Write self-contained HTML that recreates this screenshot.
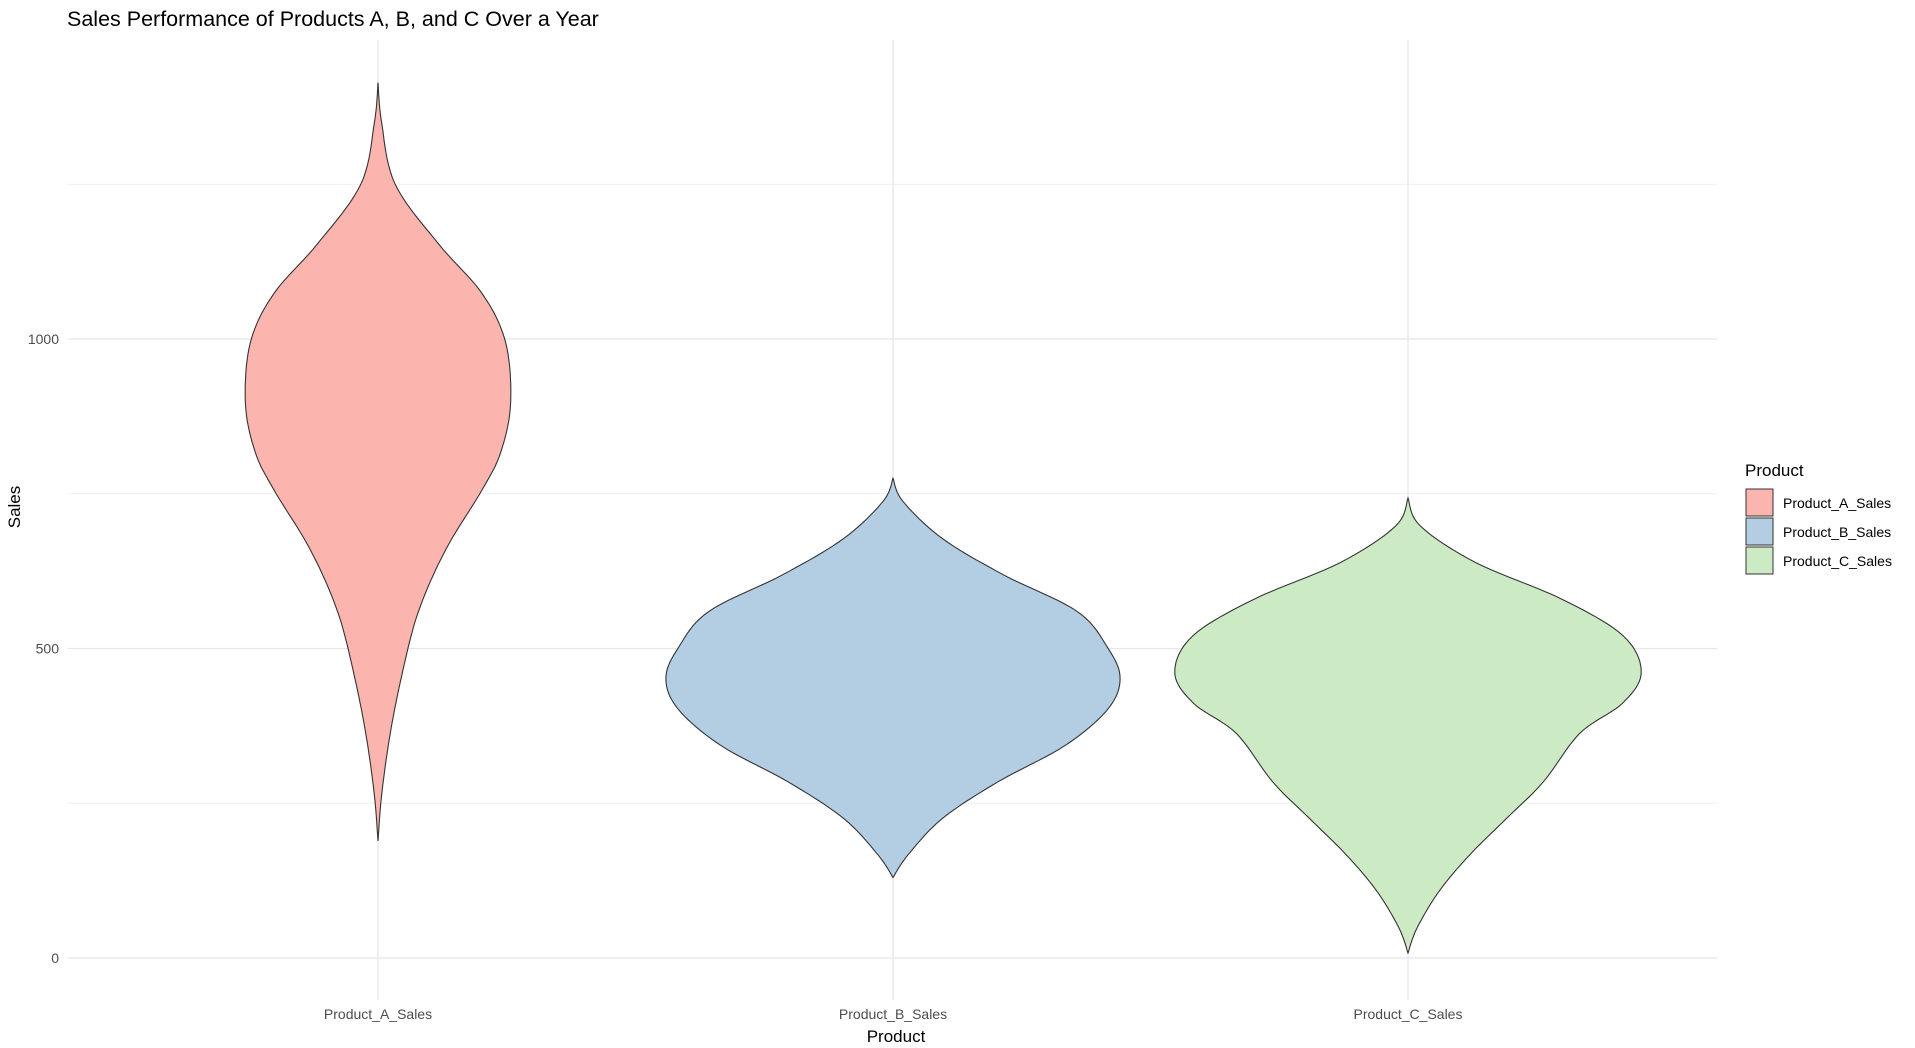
<!DOCTYPE html>
<html><head><meta charset="utf-8"><style>
html,body{margin:0;padding:0;background:#fff;}
svg{display:block;font-family:"Liberation Sans",Arial,sans-serif;}
</style></head><body>
<svg id="chart" width="1915" height="1048" viewBox="0 0 1915 1048">
<text x="67" y="26" font-size="21.5" fill="#000">Sales Performance of Products A, B, and C Over a Year</text>
<g id="grid"></g>
<g id="violins"></g>
<g id="yticks"></g>
<g id="xticks"></g>
<text x="896" y="1042" font-size="17" text-anchor="middle" fill="#000">Product</text>
<text transform="translate(20,507) rotate(-90)" font-size="17" text-anchor="middle" fill="#000">Sales</text>
<g id="legend">
<text x="1745" y="476" font-size="17" fill="#000">Product</text>
</g>
</svg>
<script>
const categories = ["Product_A_Sales","Product_B_Sales","Product_C_Sales"];
const fills = ["#FBB4AE","#B3CDE3","#CCEBC5"];
const yTicks = [0,500,1000];
const yMinor = [250,750,1250];
const salesA = [1414,1349,1250,1152,1073,994,896,817,757,659,560,462,363,264,189];
const densA  = [0,3,14,50,85,104,108,100,85,55,33,20,10,3,0];
const salesB = [775,738,678,619,560,501,452,402,343,284,225,166,130];
const densB  = [0,8,40,90,150,175,185,175,140,85,40,12,0];
const salesC = [743,698,639,580,521,462,412,363,284,225,166,107,47,8];
const densC  = [0,10,55,125,175,190,175,140,110,80,50,25,7,0];
const series = [[salesA,densA],[salesB,densB],[salesC,densC]];

const ns="http://www.w3.org/2000/svg";
const L=67.5,R=1717,T=40,B=1000;
const y0=958,yPer=0.619;
function yS(v){return y0-v*yPer;}
const step=515;
function xS(i){return 378+i*step;}
const wScale=518/422;
function mk(tag,attrs,parent){const e=document.createElementNS(ns,tag);for(const k in attrs)e.setAttribute(k,attrs[k]);parent.appendChild(e);return e;}
const grid=document.getElementById('grid');
yMinor.forEach(v=>{const l=mk('line',{x1:L,x2:R,y1:yS(v),y2:yS(v),stroke:'#ebebeb','stroke-width':0.8},grid);

});
yTicks.forEach(v=>{const l=mk('line',{x1:L,x2:R,y1:yS(v),y2:yS(v),stroke:'#e6e6e6','stroke-width':1.3},grid);

});
categories.forEach((c,i)=>{const l=mk('line',{x1:xS(i),x2:xS(i),y1:T,y2:B,stroke:'#e6e6e6','stroke-width':1.3},grid);

});
const yt=document.getElementById('yticks');
yTicks.forEach(v=>{const t=mk('text',{x:59,y:yS(v)+5,'font-size':14,'text-anchor':'end',fill:'#4d4d4d'},yt);t.textContent=v;

});
const xt=document.getElementById('xticks');
categories.forEach((c,i)=>{const t=mk('text',{x:xS(i),y:1019,'font-size':14,'text-anchor':'middle',fill:'#4d4d4d'},xt);t.textContent=c;

});
function smoothPts(ys,ws){
  const out=[];const n=ys.length;
  for(let i=0;i<n-1;i++){
    const p0=[ys[Math.max(i-1,0)],ws[Math.max(i-1,0)]],p1=[ys[i],ws[i]],p2=[ys[i+1],ws[i+1]],p3=[ys[Math.min(i+2,n-1)],ws[Math.min(i+2,n-1)]];
    for(let k=0;k<10;k++){const t=k/10,t2=t*t,t3=t2*t;
      const f=(a,b,c,d)=>0.5*((2*b)+(-a+c)*t+(2*a-5*b+4*c-d)*t2+(-a+3*b-3*c+d)*t3);
      out.push([f(p0[0],p1[0],p2[0],p3[0]),Math.max(0,f(p0[1],p1[1],p2[1],p3[1]))]);}
  }
  out.push([ys[n-1],ws[n-1]]);return out;
}
const vg=document.getElementById('violins');
series.forEach((s,i)=>{
  const pts=smoothPts(s[0],s[1]);const cx=xS(i);
  const right=pts.map(p=>[cx+p[1]*wScale,yS(p[0])]);
  const left=pts.slice().reverse().map(p=>[cx-p[1]*wScale,yS(p[0])]);
  const d='M'+right.concat(left).map(p=>p[0].toFixed(1)+','+p[1].toFixed(1)).join('L')+'Z';
  const p=mk('path',{d:d,fill:fills[i],stroke:'#333','stroke-width':1.1},vg);
  
  
});
const lg=document.getElementById('legend');
categories.forEach((c,i)=>{const y=489+i*29;
  const r=mk('rect',{x:1746,y:y,width:27,height:27,fill:fills[i],stroke:'#333','stroke-width':1},lg);
  
  
  const t=mk('text',{x:1783,y:y+19,'font-size':14,fill:'#000'},lg);t.textContent=c;
  
  
});
</script>
</body></html>
